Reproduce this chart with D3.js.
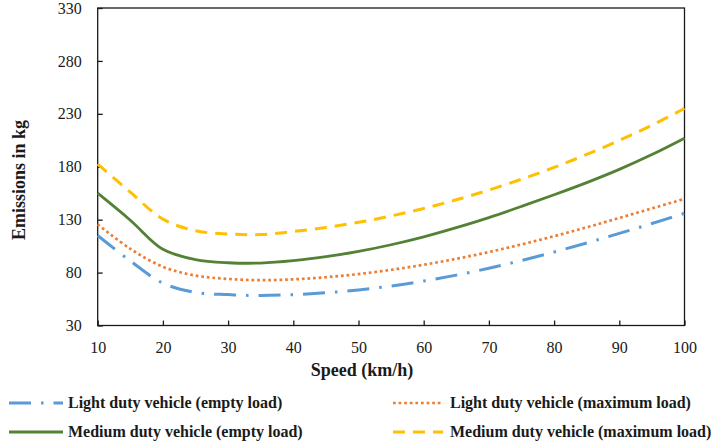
<!DOCTYPE html>
<html><head><meta charset="utf-8">
<script src="https://cdn.jsdelivr.net/npm/d3@7"></script>
<style>
html,body{margin:0;padding:0;background:#fff;}
svg{display:block;font-family:"Liberation Serif","Times New Roman",serif;}
</style></head>
<body><svg id="chart" width="715" height="446" font-family="Liberation Serif, Times New Roman, serif"></svg>
<script>
const speeds = [10,15,20,25,30,35,40,45,50,55,60,65,70,75,80,85,90,95,100];
const lightEmpty = [115, 91, 70, 61.2, 59.2, 58.3, 59.2, 60.9, 63.6, 67.3, 72, 77.6, 84.1, 91.4, 99.4, 108, 117, 126.4, 136];
const lightMax = [125.5, 102.5, 85.5, 77.2, 74, 72.8, 73.6, 75.6, 78.6, 82.6, 87.4, 93, 99.4, 106.6, 114.4, 122.8, 131.6, 140.6, 149.6];
const mediumEmpty = [155, 129.5, 102, 92.3, 89.3, 89, 91.2, 95, 100, 106.3, 113.8, 122.5, 132, 142.5, 153.5, 165, 177.5, 191.5, 207];
const mediumMax = [182.5, 156, 130.5, 119.5, 116.5, 116, 118.8, 122.6, 127.5, 133.5, 140.6, 148.8, 158, 168.2, 179.4, 191.6, 204.8, 219.3, 235];
const xTicks = [10,20,30,40,50,60,70,80,90,100];
const yTicks = [30,80,130,180,230,280,330];
const seriesNames = ["Light duty vehicle (empty load)","Light duty vehicle (maximum load)","Medium duty vehicle (empty load)","Medium duty vehicle (maximum load)"];

const series = [
  {name: seriesNames[0], values: lightEmpty, color: "#5B9BD5", dash: "22,10,2.5,10", width: 3},
  {name: seriesNames[1], values: lightMax, color: "#ED7D31", dash: "2.7,2.9", width: 2.7},
  {name: seriesNames[2], values: mediumEmpty, color: "#548235", dash: null, width: 2.8},
  {name: seriesNames[3], values: mediumMax, color: "#FFC000", dash: "12,8", width: 3}
];

const FONT = "'Liberation Serif','Times New Roman',serif";
const svg = d3.select("#chart");
const L = 97.7, R = 684.5, T = 8, B = 325.5;
const x = d3.scaleLinear().domain([10,100]).range([L,R]);
const y = d3.scaleLinear().domain([30,330]).range([B,T]);

svg.append("rect").attr("x",L).attr("y",T).attr("width",R-L).attr("height",B-T)
  .attr("fill","none").attr("stroke","#1a1a1a").attr("stroke-width",1.3);

const xAxis = svg.append("g").attr("transform",`translate(0,${B})`)
  .call(d3.axisBottom(x).tickValues(xTicks).tickSize(-5).tickPadding(16).tickFormat(d3.format("d")));
const yAxis = svg.append("g").attr("transform",`translate(${L},0)`)
  .call(d3.axisLeft(y).tickValues(yTicks).tickSize(-5).tickPadding(16).tickFormat(d3.format("d")));
[xAxis,yAxis].forEach(g=>{
  g.attr("font-family", FONT).attr("font-size", 16);
  g.select(".domain").remove();
  g.selectAll(".tick line").attr("stroke","#1a1a1a").attr("stroke-width",1.3);
  g.selectAll(".tick text").attr("fill","#1a1a1a").style("font-size","16px").style("font-family",FONT);
});

const line = d3.line().x((d,i)=>x(speeds[i])).y(d=>y(d)).curve(d3.curveCatmullRom.alpha(0.5));
const plot = svg.append("g");
series.forEach(s=>{
  const p = plot.append("path").attr("d", line(s.values)).attr("fill","none")
    .attr("stroke", s.color).attr("stroke-width", s.width).attr("stroke-linecap","butt");
  if (s.dash) p.attr("stroke-dasharray", s.dash);
});

svg.append("text").attr("x",362).attr("y",376).attr("text-anchor","middle")
  .style("font-family",FONT).style("font-size","18px").style("font-weight","bold").attr("fill","#1a1a1a").text("Speed (km/h)");
svg.append("text").attr("transform","translate(25,180) rotate(-90)").attr("text-anchor","middle")
  .style("font-family",FONT).style("font-size","18px").style("font-weight","bold").attr("fill","#1a1a1a").text("Emissions in kg");

const legendPos = [
  {lx:9, ly:403, tx:68},
  {lx:393, ly:403, tx:450},
  {lx:9, ly:432, tx:68},
  {lx:393, ly:432, tx:450}
];
const lg = svg.append("g");
series.forEach((s,i)=>{
  const p = legendPos[i];
  const w = i%2===0 ? 54 : 50;
  const ln = lg.append("line").attr("x1",p.lx).attr("x2",p.lx+w).attr("y1",p.ly).attr("y2",p.ly)
    .attr("stroke",s.color).attr("stroke-width",s.width);
  if (s.dash) ln.attr("stroke-dasharray", s.dash);
  lg.append("text").attr("x",p.tx).attr("y",p.ly+5).style("font-family",FONT).style("font-size","16px").style("font-weight","bold")
    .attr("fill","#1a1a1a").text(s.name);
});
</script></body></html>
